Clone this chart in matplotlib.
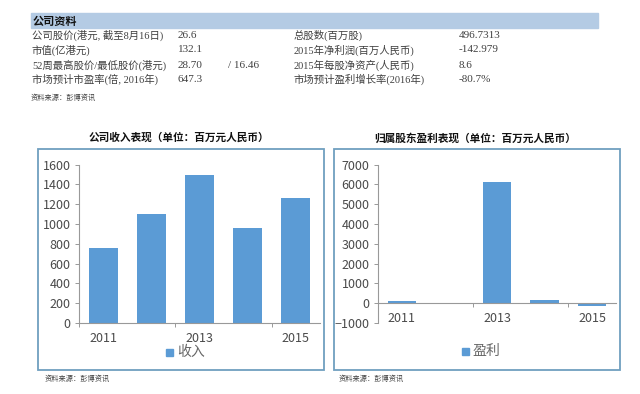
import matplotlib
matplotlib.use("Agg")
import matplotlib.pyplot as plt
from matplotlib.patches import Rectangle

plt.rcParams['font.family'] = ['Noto Sans CJK SC', 'DejaVu Sans']

W, H = 640, 394

years = ["2011", "2012", "2013", "2014", "2015"]
revenue = [755, 1105, 1490, 960, 1265]
profit = [120, 0, 6130, 150, -143]
rev_ticks = [0, 200, 400, 600, 800, 1000, 1200, 1400, 1600]
profit_ticks = [-1000, 0, 1000, 2000, 3000, 4000, 5000, 6000, 7000]

table_header = "公司资料"
left_names = ["公司股价(港元, 截至8月16日)", "市值(亿港元)",
              "52周最高股价/最低股价(港元)", "市场预计市盈率(倍, 2016年)"]
left_vals = ["26.6", "132.1", "28.70", "647.3"]
low_price = "/ 16.46"
right_names = ["总股数(百万股)", "2015年净利润(百万人民币)",
               "2015年每股净资产(人民币)", "市场预计盈利增长率(2016年)"]
right_vals = ["496.7313", "-142.979", "8.6", "-80.7%"]
source = "资料来源：彭博资讯"
title1 = "公司收入表现（单位：百万元人民币）"
title2 = "归属股东盈利表现（单位：百万元人民币）"

BLUE = "#5b9bd5"
BOX = "#6f9fbf"
TEXT = "#404040"
SERIF = ['Liberation Serif', 'Noto Sans CJK SC']


def fx(x):
    return x / W


def fy(y):
    return 1 - y / H


def put_axes(fig, x0, x1, ytop, ybot):
    return fig.add_axes([fx(x0), fy(ybot), (x1 - x0) / W, (ybot - ytop) / H])


def ax_px(ax, i):
    b = ax.get_position()
    return (b.x0 + b.width * (i + 0.5) / 5) * W


def bars(ax, vals, ticks, legend_name, legend_x, legend_y, label_y):
    xs = list(range(len(vals)))
    ax.bar(xs, vals, width=0.6, color=BLUE)
    ax.set_xlim(-0.5, len(vals) - 0.5)
    ax.set_ylim(ticks[0], ticks[-1])
    ax.set_yticks(ticks)
    ax.tick_params(axis='y', labelsize=9, length=3, color="#999999",
                   labelcolor="#4a4a4a", pad=3, width=0.7)
    # ticks sit on category edges, one label every second year
    ax.set_xticks([-0.5, 1.5, 3.5])
    ax.set_xticklabels([])
    ax.tick_params(axis='x', length=3, color="#999999", width=0.7)
    for s in ("top", "right"):
        ax.spines[s].set_visible(False)
    ax.spines["left"].set_color("#999999")
    ax.spines["bottom"].set_color("#999999")
    ax.spines["bottom"].set_position(('data', 0))
    ax.patch.set_alpha(0)
    for i in (0, 2, 4):
        fig.text(fx(ax_px(ax, i)), fy(label_y), years[i], fontsize=9,
                 color="#4a4a4a", ha="center", va="center")
    fig.add_artist(Rectangle((fx(legend_x), fy(legend_y + 3.5)), 6.5 / W, 7 / H,
                             color=BLUE, transform=fig.transFigure))
    fig.text(fx(legend_x + 11), fy(legend_y), legend_name, fontsize=10,
             color="#666666", ha="left", va="center")


fig = plt.figure(figsize=(W / 100, H / 100), dpi=100, facecolor="white")

# table on top
fig.add_artist(Rectangle((fx(31), fy(28)), 567 / W, 15 / H, color="#b4cbe4",
                         transform=fig.transFigure))
fig.text(fx(33), fy(21), table_header, fontsize=8, fontweight="bold",
         color="#111111", va="center")
row_y = [35, 50, 65, 79.5]
for i, y in enumerate(row_y):
    fig.text(fx(32), fy(y), left_names[i], fontsize=7.5, family=SERIF, color=TEXT, va="center")
    fig.text(fx(178), fy(y), left_vals[i], fontsize=8, family=SERIF, color=TEXT, va="center")
    fig.text(fx(294), fy(y), right_names[i], fontsize=7.5, family=SERIF, color=TEXT, va="center")
    fig.text(fx(459), fy(y), right_vals[i], fontsize=8, family=SERIF, color=TEXT, va="center")
fig.text(fx(228), fy(row_y[2]), low_price, fontsize=8, family=SERIF, color=TEXT, va="center")
fig.text(fx(31), fy(98), source, fontsize=5.2, style="italic", color=TEXT, va="center")

# chart titles and frames
fig.text(fx(179), fy(138), title1, fontsize=7.7, fontweight="bold", color="#111111",
         ha="center", va="center")
fig.text(fx(475), fy(138), title2, fontsize=7.7, fontweight="bold", color="#111111",
         ha="center", va="center")
for x0, x1 in ((38, 324), (334, 620)):
    fig.add_artist(Rectangle((fx(x0), fy(370)), (x1 - x0) / W, 221 / H, fill=False,
                             edgecolor=BOX, linewidth=1.3, transform=fig.transFigure))

ax1 = put_axes(fig, 79, 320, 164.5, 323)
bars(ax1, revenue, rev_ticks, "收入", 166, 352, 339)

ax2 = put_axes(fig, 378, 616, 164.5, 323)
bars(ax2, profit, profit_ticks, "盈利", 462, 351, 319)

fig.text(fx(45), fy(379), source, fontsize=5.2, style="italic", color=TEXT, va="center")
fig.text(fx(339), fy(379), source, fontsize=5.2, style="italic", color=TEXT, va="center")

plt.savefig("out.png", dpi=100)
